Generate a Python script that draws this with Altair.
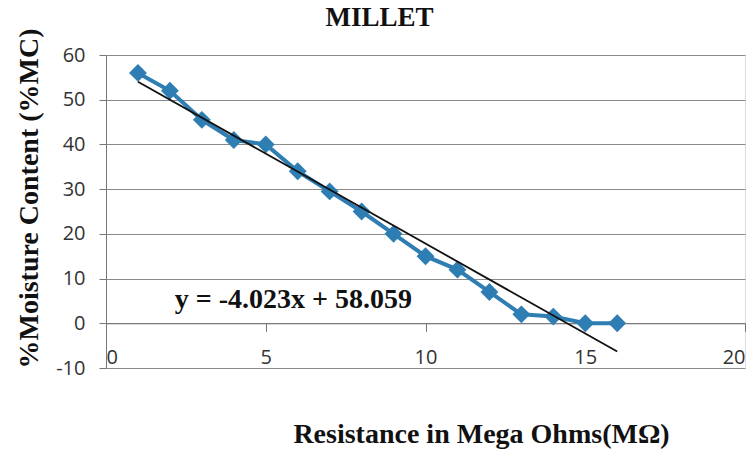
import altair as alt
import pandas as pd

resistance = [1, 2, 3, 4, 5, 6, 7, 8, 9, 10, 11, 12, 13, 14, 15, 16]
moisture = [56, 52, 45.5, 41, 40, 34, 29.5, 25, 20, 15, 12, 7, 2, 1.5, 0, 0]
slope = -4.023
intercept = 58.059
equation = "y = -4.023x + 58.059"

W, H = 639, 313
Y_MIN, Y_MAX = -10, 60

df = pd.DataFrame({"x": resistance, "y": moisture})
trend_df = pd.DataFrame({"x": [resistance[0], resistance[-1]]})
label_df = pd.DataFrame({"x": [2.15], "y": [5.3], "t": [equation]})

xscale = alt.Scale(domain=[0, 20], nice=False)
yscale = alt.Scale(domain=[Y_MIN, Y_MAX], nice=False)

axis_offset = -H * (0 - Y_MIN) / (Y_MAX - Y_MIN)
SERIF = "Liberation Serif"

x_enc = alt.X(
    "x:Q", scale=xscale,
    title="Resistance in Mega Ohms(MΩ)",
    axis=alt.Axis(
        values=[0, 5, 10, 15, 20], grid=False, offset=axis_offset,
        domainColor="#777", tickColor="#777", tickSize=8,
        labelFont="Open Sans", labelFontSize=20, labelColor="#333",
        labelPadding=16, labelExpr="datum.value",
        titleFont=SERIF, titleFontSize=28, titleFontWeight="bold",
        titleColor="#111", titleX=375, titleY=119, titleBaseline="alphabetic",
    ),
)
y_enc = alt.Y(
    "y:Q", scale=yscale,
    title="%Moisture Content (%MC)",
    axis=alt.Axis(
        values=list(range(-10, 61, 10)), grid=True, gridColor="#8a8a8a",
        gridWidth=1.2, domainColor="#777", tickColor="#777", tickSize=7,
        labelFont="Open Sans", labelFontSize=20, labelColor="#333",
        labelPadding=14, labelExpr="datum.value",
        titleFont=SERIF, titleFontSize=28, titleFontWeight="bold",
        titleColor="#111", titlePadding=12, titleY=143,
    ),
)

line = alt.Chart(df).mark_line(
    color="#2E7DB3", strokeWidth=4,
    point=alt.OverlayMarkDef(shape="diamond", size=320, filled=True, color="#2E7DB3"),
).encode(x=x_enc, y=y_enc)

trend = alt.Chart(trend_df).transform_calculate(
    y=f"{slope} * datum.x + {intercept}"
).mark_line(color="#111", strokeWidth=1.8).encode(
    x=alt.X("x:Q", scale=xscale), y=alt.Y("y:Q", scale=yscale)
)

label = alt.Chart(label_df).mark_text(
    align="left", baseline="middle", font=SERIF,
    fontSize=28, fontWeight="bold", color="#111",
).encode(x=alt.X("x:Q", scale=xscale), y=alt.Y("y:Q", scale=yscale), text="t:N")

chart = alt.layer(line, trend, label).properties(
    width=W, height=H,
    title=alt.Title("MILLET", font=SERIF, fontSize=27,
                    fontWeight="bold", color="#111", dx=-46, dy=11, offset=7),
    autosize=alt.AutoSizeParams(type="none"),
    padding={"left": 98, "top": 47, "right": 3, "bottom": 84},
).configure_view(stroke=None).configure(background="white")

chart.save("out.html", embed_options={"renderer": "svg", "actions": False})
